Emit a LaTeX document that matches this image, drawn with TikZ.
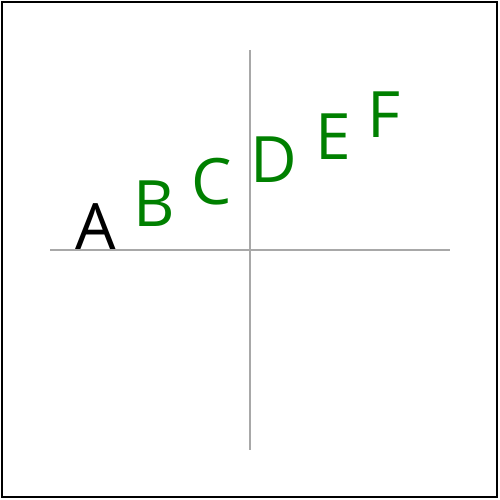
\documentclass[tikz,border=0pt]{standalone}
\usepackage{fontspec}
\setmainfont{Open Sans}
\definecolor{axisgray}{HTML}{A8A8A8}
\definecolor{txtgreen}{HTML}{008000}
\begin{document}
\begin{tikzpicture}[x=1pt,y=-1pt,
  letter/.style={anchor=base west,inner sep=0pt,outer sep=0pt,font=\fontsize{64}{64}\selectfont},
  gl/.style={letter,text=txtgreen}]
\useasboundingbox (0,0) rectangle (500,500);
\draw[line width=2pt] (2,2) rectangle (497,497);
\coordinate (hl) at (50,250);
\coordinate (hr) at (450,250);
\coordinate (vt) at (250,50);
\coordinate (vb) at (250,450);
\draw[axisgray,line width=1.6pt] (hl) -- (hr);
\draw[axisgray,line width=1.6pt] (vt) -- (vb);
\node[letter] (A) at (75,249) {A};
\node[gl] (B) at (133,226.5) {B};
\node[gl] (C) at (191,204.5) {C};
\node[gl] (D) at (250,182) {D};
\node[gl] (E) at (315,159) {E};
\node[gl] (F) at (367,137) {F};
\end{tikzpicture}
\end{document}
